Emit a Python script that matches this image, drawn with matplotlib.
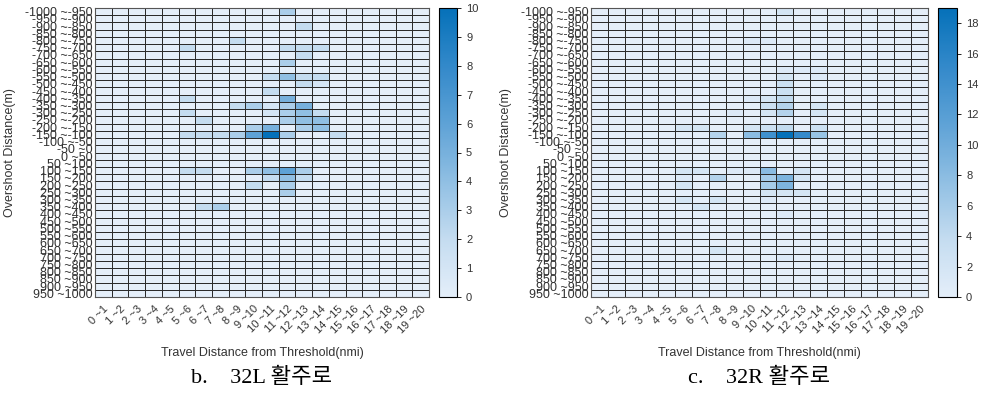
import numpy as np
import matplotlib
matplotlib.use("Agg")
import matplotlib.pyplot as plt
from matplotlib.colors import LinearSegmentedColormap

plt.rcParams['font.family'] = ['Liberation Sans', 'DejaVu Sans']

# bins: overshoot distance (m) rows, travel distance (nmi) columns
row_edges = list(range(-1000, 1001, 50))
row_labels = [f"{a} ~{b}" for a, b in zip(row_edges[:-1], row_edges[1:])]
col_labels = [f"{i} ~{i + 1}" for i in range(20)]

# non-empty cells as (row index, column index, count)
counts_32L = [
    (0, 11, 3), (2, 12, 2), (4, 8, 2),
    (5, 5, 2), (5, 11, 2), (5, 12, 2), (5, 13, 2),
    (6, 12, 2), (7, 11, 3),
    (9, 10, 2), (9, 11, 4), (9, 12, 2), (9, 13, 2),
    (10, 12, 2), (10, 13, 1), (11, 10, 2),
    (12, 5, 2), (12, 11, 5),
    (13, 8, 2), (13, 9, 3), (13, 10, 1), (13, 11, 3), (13, 12, 5),
    (14, 5, 2), (14, 10, 1), (14, 11, 3), (14, 12, 4), (14, 13, 2),
    (15, 6, 2), (15, 11, 3), (15, 12, 4), (15, 13, 4),
    (16, 9, 3), (16, 10, 5), (16, 12, 3), (16, 13, 4),
    (17, 5, 2), (17, 6, 2), (17, 7, 2), (17, 8, 3), (17, 9, 6),
    (17, 10, 10), (17, 11, 3), (17, 14, 2),
    (22, 5, 2), (22, 6, 2), (22, 9, 3), (22, 10, 4), (22, 11, 6), (22, 12, 3),
    (23, 10, 2), (23, 11, 4), (23, 12, 2),
    (24, 9, 2), (24, 11, 3), (25, 11, 3),
    (27, 6, 2), (27, 7, 3),
]
counts_32R = [
    (0, 11, 2), (4, 9, 1), (4, 10, 1),
    (8, 11, 1), (8, 12, 1), (8, 13, 1),
    (9, 11, 2), (9, 13, 1), (10, 11, 3), (11, 11, 3),
    (12, 9, 1), (12, 10, 2), (12, 11, 4),
    (13, 10, 3), (13, 11, 5), (13, 13, 2),
    (14, 8, 1), (14, 10, 2), (14, 11, 5), (14, 13, 2),
    (16, 5, 2), (16, 6, 2), (16, 9, 2), (16, 10, 3), (16, 11, 4), (16, 13, 3),
    (17, 7, 5), (17, 9, 8), (17, 10, 14), (17, 11, 19), (17, 12, 15), (17, 13, 7),
    (22, 5, 2), (22, 6, 2), (22, 8, 1), (22, 9, 1), (22, 10, 8), (22, 12, 2),
    (23, 5, 1), (23, 7, 5), (23, 10, 6), (23, 11, 9), (23, 12, 2),
    (24, 5, 2), (24, 10, 6), (24, 11, 9),
    (25, 10, 2), (25, 11, 2), (25, 12, 2),
    (26, 5, 2), (26, 7, 2), (26, 10, 1),
    (27, 6, 2), (28, 11, 1), (33, 7, 2), (34, 11, 1),
]

cmap = LinearSegmentedColormap.from_list(
    "runway_blues",
    ["#e4eef9", "#c4dcf0", "#90bfe3", "#5ea2d6", "#3389ca", "#0571b9"])


def to_grid(cells):
    grid = np.zeros((len(row_labels), len(col_labels)))
    for r, c, v in cells:
        grid[r, c] = v
    return grid


def draw_map(fig, rect, cbar_rect, cells, vmax, cticks, caption):
    ax = fig.add_axes(rect)
    grid = to_grid(cells)
    mesh = ax.pcolormesh(grid, cmap=cmap, vmin=0, vmax=vmax,
                         edgecolors='#2b2b2b', linewidth=0.6)
    ax.set_xlim(0, len(col_labels))
    ax.set_ylim(len(row_labels), 0)
    ax.set_xticks(np.arange(len(col_labels)) + 0.5)
    ax.set_xticklabels(col_labels, rotation=45, ha='right',
                       rotation_mode='anchor', fontsize=8, color='#333333')
    ax.set_yticks(np.arange(len(row_labels)) + 0.5)
    ax.set_yticklabels(row_labels, fontsize=9, color='#333333')
    ax.tick_params(axis='y', length=0, pad=2)
    ax.tick_params(axis='x', length=0, pad=5)
    for s in ax.spines.values():
        s.set_color('#555555')
        s.set_linewidth(0.8)
    ax.set_xlabel("Travel Distance from Threshold(nmi)", fontsize=9,
                  color='#333333', labelpad=8)
    ax.set_ylabel("Overshoot Distance(m)", fontsize=9, color='#333333',
                  labelpad=6)
    ax.text(0.5, -0.28, caption, transform=ax.transAxes, ha='center',
            va='center', fontsize=16,
            family=['Liberation Serif', 'Noto Sans CJK KR'])

    cax = fig.add_axes(cbar_rect)
    cb = fig.colorbar(mesh, cax=cax, ticks=cticks)
    cb.outline.set_edgecolor('black')
    cb.outline.set_linewidth(0.8)
    cax.tick_params(labelsize=8, labelcolor='#333333', length=3, width=0.6)
    return ax


fig = plt.figure(figsize=(9.82, 3.95), dpi=100)
W, H = 982, 395


def frac(x0, y0, x1, y1):
    return [x0 / W, 1 - y1 / H, (x1 - x0) / W, (y1 - y0) / H]


draw_map(fig, frac(95, 8, 429, 297), frac(439, 8, 457, 297),
         counts_32L, 10, range(0, 11), "b.    32L 활주로")
draw_map(fig, frac(591, 8, 928, 297), frac(938, 8, 957, 297),
         counts_32R, 19, range(0, 19, 2), "c.    32R 활주로")

fig.savefig("out.png", dpi=100)
